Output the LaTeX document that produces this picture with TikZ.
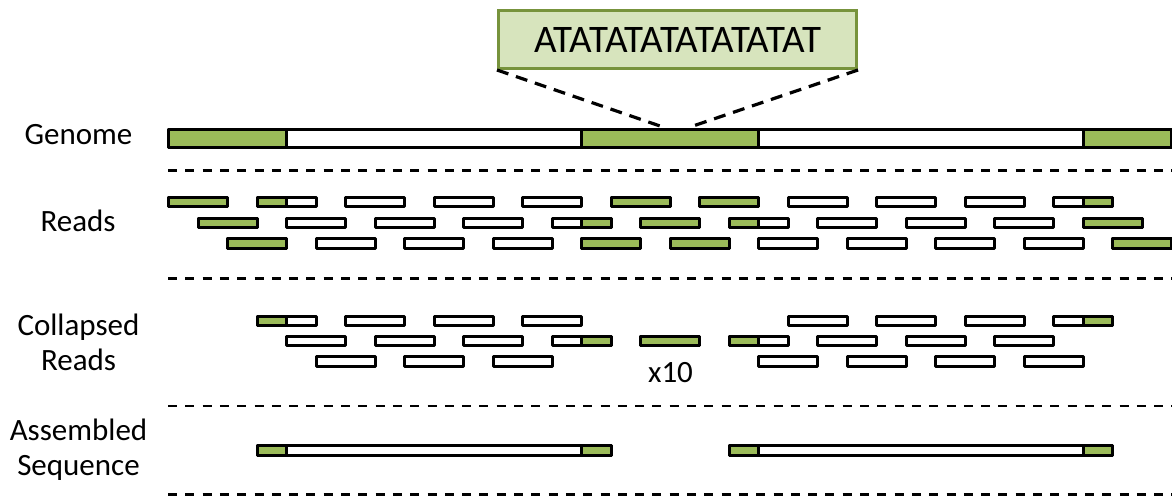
\documentclass[tikz,border=0pt]{standalone}
\usepackage{fontspec}
\setmainfont{Carlito}
\definecolor{repgreen}{HTML}{9BBB59}
\definecolor{boxfill}{HTML}{D7E4BD}
\definecolor{boxedge}{HTML}{77933C}

% genome coordinates: origin and length of one unit (pixels)
\def\xo{168.5}
\def\uu{29.5}

\tikzset{
  outline/.style={draw=black, line width=3pt, line join=round},
  seg/.style={outline, fill=repgreen},
  sep/.style={line width=2.6pt, dash pattern=on 9pt off 8.3pt},
  zoomline/.style={line width=3.2pt, dash pattern=on 12pt off 8pt},
  label/.style={font=\fontsize{31}{35}\selectfont, align=center, inner sep=0pt},
  seqbox/.style={draw=boxedge, fill=boxfill, line width=3pt, minimum width=358pt,
    minimum height=58pt, inner sep=0pt, font=\fontsize{39}{46}\selectfont},
}

% a read of two units, all white: start unit, y centre
\newcommand\wread[2]{%
  \draw[outline, fill=white] ({\xo+(#1)*\uu},{#2-4.6}) rectangle ({\xo+(#1+2)*\uu},{#2+4.6});}
% a bar with green stretches: start unit, end unit, y centre, half height, green intervals
\newcommand\gbar[5]{%
  \fill[white] ({\xo+(#1)*\uu},{#3-#4}) rectangle ({\xo+(#2)*\uu},{#3+#4});
  \foreach \ga/\gb in {#5}{%
    \draw[seg] ({\xo+(\ga)*\uu},{#3-#4}) rectangle ({\xo+(\gb)*\uu},{#3+#4});}
  \draw[outline] ({\xo+(#1)*\uu},{#3-#4}) rectangle ({\xo+(#2)*\uu},{#3+#4});}
\newcommand\gread[3]{\gbar{#1}{#1+2}{#2}{4.6}{#3}}

\begin{document}
\begin{tikzpicture}[x=1pt, y=-1pt]
\useasboundingbox (0,0) rectangle (1172,497);

% row labels
\node[label, anchor=base] (lab-genome) at (78.5,145) {Genome};
\node[label, anchor=base] (lab-reads) at (78,231) {Reads};
\node[label] (lab-coll) at (78.5,342) {Collapsed\\Reads};
\node[label] (lab-asm) at (78.5,450) {Assembled\\Sequence};

% genome with its three repeat copies
\gbar{0}{34}{138.4}{9.2}{0/4,14/20,31/34}
\coordinate (gen-l) at (665,127.7);
\coordinate (gen-r) at (688,127.7);

% the repeat sequence, blown up
\node[seqbox] (repeat) at (677.5,39.5) {ATATATATATATATAT};
\draw[zoomline] (repeat.south west) -- (gen-l);
\draw[zoomline] (repeat.south east) -- (gen-r);

% separators
\foreach \yy in {170.5,278.5,406,494.5}
  \draw[sep] (168,\yy) -- (1172,\yy);

% reads, three staggered rows
\gread{0}{202}{0/2}
\gread{3}{202}{3/4}
\foreach \s in {6,9,12} {\wread{\s}{202}}
\gread{15}{202}{15/17}
\gread{18}{202}{18/20}
\foreach \s in {21,24,27} {\wread{\s}{202}}
\gread{30}{202}{31/32}

\gread{1}{222.7}{1/3}
\foreach \s in {4,7,10} {\wread{\s}{222.7}}
\gread{13}{222.7}{14/15}
\gread{16}{222.7}{16/18}
\gread{19}{222.7}{19/20}
\foreach \s in {22,25,28} {\wread{\s}{222.7}}
\gread{31}{222.7}{31/33}

\gread{2}{243.5}{2/4}
\foreach \s in {5,8,11} {\wread{\s}{243.5}}
\gread{14}{243.5}{14/16}
\gread{17}{243.5}{17/19}
\foreach \s in {20,23,26,29} {\wread{\s}{243.5}}
\gread{32}{243.5}{32/34}

% collapsed reads
\gread{3}{320.7}{3/4}
\foreach \s in {6,9,12,21,24,27} {\wread{\s}{320.7}}
\gread{30}{320.7}{31/32}

\foreach \s in {4,7,10,22,25,28} {\wread{\s}{341}}
\gread{13}{341}{14/15}
\gread{16}{341}{16/18}
\gread{19}{341}{19/20}

\foreach \s in {5,8,11,20,23,26,29} {\wread{\s}{361.5}}

\node[label, anchor=base] (mult) at (670.5,382) {x10};

% assembled contigs
\gbar{3}{15}{450.5}{4.6}{3/4,14/15}
\gbar{19}{32}{450.5}{4.6}{19/20,31/32}
\end{tikzpicture}
\end{document}
